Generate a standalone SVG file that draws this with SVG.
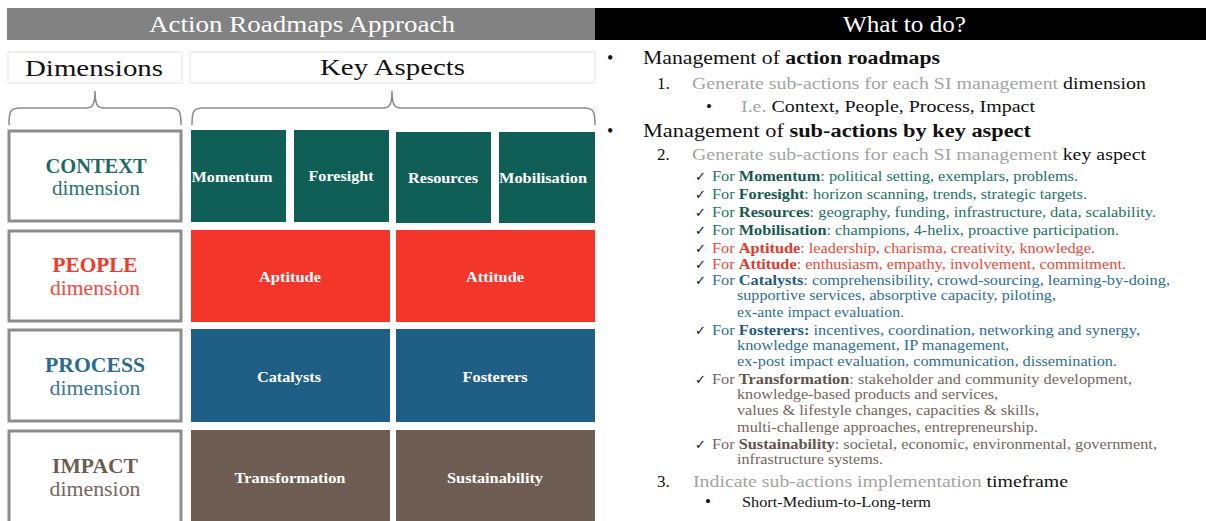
<svg xmlns="http://www.w3.org/2000/svg" width="1206" height="521" viewBox="0 0 1206 521">
<style>
text{font-family:"Liberation Serif","Times New Roman",serif}
.hdr{font-size:24px;fill:#fff}
.lbl{font-size:23px;fill:#111}
.dimbox{fill:#fff;stroke:#8c8c8c;stroke-width:3}
.lblbox{fill:#fff;stroke:#e2e2e2;stroke-width:1}
.dt{font-size:20px;font-weight:bold;text-anchor:middle}
.ds{font-size:20px;text-anchor:middle}
.asp{font-size:14.5px;font-weight:bold;fill:#fff;text-anchor:middle}
.ctx{fill:#0f5f56}.ppl{fill:#f4352a}.prc{fill:#1f5e85}.imp{fill:#6e5d52}
.brace{fill:none;stroke:#8c8c8c;stroke-width:1.6}
.l1{font-size:18px;fill:#111}
.l2{font-size:17px;fill:#111}
.g{fill:#a3a3a3}
.b{font-weight:bold}
.ck{font-family:"DejaVu Sans",sans-serif;font-size:13px;font-weight:bold;fill:#111}
.li{font-size:14px}
.tc{fill:#237166}.tcb{fill:#175a50}
.rc{fill:#ec4638}.rcb{fill:#e1392c}
.bc{fill:#2f6d93}.bcb{fill:#225c80}
.nc{fill:#75645a}.ncb{fill:#62524a}
</style>

<g id="header-left">
<rect x="7" y="8" width="588" height="32" fill="#828282"/>
<text class="hdr" x="149" y="32" textLength="306" lengthAdjust="spacingAndGlyphs">Action Roadmaps Approach</text>
</g>
<g id="header-right">
<rect x="595" y="8" width="611" height="32" fill="#000"/>
<text class="hdr" x="843" y="32" textLength="123" lengthAdjust="spacingAndGlyphs">What to do?</text>
</g>

<g id="label-dimensions">
<rect class="lblbox" x="8" y="52" width="174" height="31"/>
<text class="lbl" x="25" y="76" textLength="138" lengthAdjust="spacingAndGlyphs">Dimensions</text>
</g>
<g id="label-key-aspects">
<rect class="lblbox" x="190" y="52" width="405" height="31"/>
<text class="lbl" x="320" y="75" textLength="145" lengthAdjust="spacingAndGlyphs">Key Aspects</text>
</g>

<g id="connectors">
<path class="brace" d="M9,125 C9,112 10,108 20,108 L86,108 C93,108 95,104 95,91 C95,104 97,108 104,108 L170,108 C180,108 181,112 181,125"/>
<path class="brace" d="M192,125 C192,112 193,108 203,108 L383,108 C390,108 392,104 392,91 C392,104 394,108 401,108 L584,108 C594,108 595,112 595,125"/>
</g>

<g id="dim-context">
<rect class="dimbox" x="9" y="131" width="172" height="90"/>
<text class="dt" x="96" y="173" fill="#1b6b5f" textLength="101" lengthAdjust="spacingAndGlyphs">CONTEXT</text>
<text class="ds" x="96" y="195" fill="#2a7569" textLength="88" lengthAdjust="spacingAndGlyphs">dimension</text>
</g>
<g id="dim-people">
<rect class="dimbox" x="9" y="231" width="172" height="90"/>
<text class="dt" x="95" y="272" fill="#f0382b" textLength="85" lengthAdjust="spacingAndGlyphs">PEOPLE</text>
<text class="ds" x="95" y="295" fill="#ef4a3c" textLength="90" lengthAdjust="spacingAndGlyphs">dimension</text>
</g>
<g id="dim-process">
<rect class="dimbox" x="9" y="330" width="172" height="91"/>
<text class="dt" x="95" y="372" fill="#2a6a8c" textLength="100" lengthAdjust="spacingAndGlyphs">PROCESS</text>
<text class="ds" x="95" y="395" fill="#3a7596" textLength="91" lengthAdjust="spacingAndGlyphs">dimension</text>
</g>
<g id="dim-impact">
<rect class="dimbox" x="9" y="431" width="172" height="95"/>
<text class="dt" x="95" y="473" fill="#6d5c52" textLength="86" lengthAdjust="spacingAndGlyphs">IMPACT</text>
<text class="ds" x="95" y="496" fill="#76665c" textLength="91" lengthAdjust="spacingAndGlyphs">dimension</text>
</g>

<g id="momentum"><rect class="ctx" x="191" y="130" width="95" height="92"/><text class="asp" x="232" y="182" textLength="81" lengthAdjust="spacingAndGlyphs">Momentum</text></g>
<g id="foresight"><rect class="ctx" x="294" y="130" width="95" height="92"/><text class="asp" x="341" y="181" textLength="65" lengthAdjust="spacingAndGlyphs">Foresight</text></g>
<g id="resources"><rect class="ctx" x="396" y="132" width="95" height="91"/><text class="asp" x="443" y="183" textLength="70" lengthAdjust="spacingAndGlyphs">Resources</text></g>
<g id="mobilisation"><rect class="ctx" x="499" y="132" width="96" height="91"/><text class="asp" x="543" y="183" textLength="88" lengthAdjust="spacingAndGlyphs">Mobilisation</text></g>

<g id="aptitude"><rect class="ppl" x="191" y="230" width="199" height="92"/><text class="asp" x="290" y="282" textLength="62" lengthAdjust="spacingAndGlyphs">Aptitude</text></g>
<g id="attitude"><rect class="ppl" x="396" y="230" width="199" height="92"/><text class="asp" x="495" y="282" textLength="58" lengthAdjust="spacingAndGlyphs">Attitude</text></g>

<g id="catalysts"><rect class="prc" x="191" y="329" width="199" height="93"/><text class="asp" x="289" y="382" textLength="64" lengthAdjust="spacingAndGlyphs">Catalysts</text></g>
<g id="fosterers"><rect class="prc" x="396" y="329" width="199" height="93"/><text class="asp" x="495" y="382" textLength="65" lengthAdjust="spacingAndGlyphs">Fosterers</text></g>

<g id="transformation"><rect class="imp" x="191" y="430" width="199" height="95"/><text class="asp" x="290" y="483" textLength="111" lengthAdjust="spacingAndGlyphs">Transformation</text></g>
<g id="sustainability"><rect class="imp" x="396" y="430" width="199" height="95"/><text class="asp" x="495" y="483" textLength="96" lengthAdjust="spacingAndGlyphs">Sustainability</text></g>

<g id="what-to-do">
<text class="l1" x="607" y="64">•</text>
<text class="l1" x="643" y="64" textLength="297" lengthAdjust="spacingAndGlyphs">Management of <tspan class="b">action roadmaps</tspan></text>
<text class="l2" x="657" y="89">1.</text>
<text class="l2" x="692" y="89" textLength="454" lengthAdjust="spacingAndGlyphs"><tspan class="g">Generate sub-actions for each SI management</tspan> dimension</text>
<text class="l2" x="706" y="112">•</text>
<text class="l2" x="741" y="112" textLength="294" lengthAdjust="spacingAndGlyphs"><tspan class="g">I.e.</tspan> Context, People, Process, Impact</text>
<text class="l1" x="607" y="137">•</text>
<text class="l1" x="643" y="137" textLength="388" lengthAdjust="spacingAndGlyphs">Management of <tspan class="b">sub-actions by key aspect</tspan></text>
<text class="l2" x="657" y="160">2.</text>
<text class="l2" x="692" y="160" textLength="454" lengthAdjust="spacingAndGlyphs"><tspan class="g">Generate sub-actions for each SI management</tspan> key aspect</text>

<text class="ck" x="695" y="181">✓</text>
<text class="li tc" x="712" y="181" textLength="366" lengthAdjust="spacingAndGlyphs">For <tspan class="b tcb">Momentum</tspan>: political setting, exemplars, problems.</text>
<text class="ck" x="695" y="199">✓</text>
<text class="li tc" x="712" y="199" textLength="375" lengthAdjust="spacingAndGlyphs">For <tspan class="b tcb">Foresight</tspan>: horizon scanning, trends, strategic targets.</text>
<text class="ck" x="695" y="217">✓</text>
<text class="li tc" x="712" y="217" textLength="444" lengthAdjust="spacingAndGlyphs">For <tspan class="b tcb">Resources</tspan>: geography, funding, infrastructure, data, scalability.</text>
<text class="ck" x="695" y="235">✓</text>
<text class="li tc" x="712" y="235" textLength="407" lengthAdjust="spacingAndGlyphs">For <tspan class="b tcb">Mobilisation</tspan>: champions, 4-helix, proactive participation.</text>
<text class="ck" x="695" y="253">✓</text>
<text class="li rc" x="712" y="253" textLength="383" lengthAdjust="spacingAndGlyphs">For <tspan class="b rcb">Aptitude</tspan>: leadership, charisma, creativity, knowledge.</text>
<text class="ck" x="695" y="269">✓</text>
<text class="li rc" x="712" y="269" textLength="414" lengthAdjust="spacingAndGlyphs">For <tspan class="b rcb">Attitude</tspan>: enthusiasm, empathy, involvement, commitment.</text>
<text class="ck" x="695" y="285">✓</text>
<text class="li bc" x="712" y="285" textLength="458" lengthAdjust="spacingAndGlyphs">For <tspan class="b bcb">Catalysts</tspan>: comprehensibility, crowd-sourcing, learning-by-doing,</text>
<text class="li bc" x="737" y="300" textLength="319" lengthAdjust="spacingAndGlyphs">supportive services, absorptive capacity, piloting,</text>
<text class="li bc" x="737" y="317" textLength="167" lengthAdjust="spacingAndGlyphs">ex-ante impact evaluation.</text>
<text class="ck" x="695" y="335">✓</text>
<text class="li bc" x="712" y="335" textLength="428" lengthAdjust="spacingAndGlyphs">For <tspan class="b bcb">Fosterers:</tspan> incentives, coordination, networking and synergy,</text>
<text class="li bc" x="737" y="350" textLength="272" lengthAdjust="spacingAndGlyphs">knowledge management, IP management,</text>
<text class="li bc" x="737" y="366" textLength="380" lengthAdjust="spacingAndGlyphs">ex-post impact evaluation, communication, dissemination.</text>
<text class="ck" x="695" y="384">✓</text>
<text class="li nc" x="712" y="384" textLength="420" lengthAdjust="spacingAndGlyphs">For <tspan class="b ncb">Transformation</tspan>: stakeholder and community development,</text>
<text class="li nc" x="737" y="399" textLength="261" lengthAdjust="spacingAndGlyphs">knowledge-based products and services,</text>
<text class="li nc" x="737" y="415" textLength="302" lengthAdjust="spacingAndGlyphs">values &amp; lifestyle changes, capacities &amp; skills,</text>
<text class="li nc" x="737" y="432" textLength="301" lengthAdjust="spacingAndGlyphs">multi-challenge approaches, entrepreneurship.</text>
<text class="ck" x="695" y="449">✓</text>
<text class="li nc" x="712" y="449" textLength="445" lengthAdjust="spacingAndGlyphs">For <tspan class="b ncb">Sustainability</tspan>: societal, economic, environmental, government,</text>
<text class="li nc" x="737" y="464" textLength="146" lengthAdjust="spacingAndGlyphs">infrastructure systems.</text>

<text class="l2" x="657" y="487">3.</text>
<text class="l2" x="693" y="487" textLength="375" lengthAdjust="spacingAndGlyphs"><tspan class="g">Indicate sub-actions implementation</tspan> timeframe</text>
<text class="l2" x="705" y="507" font-size="13">•</text>
<text x="742" y="507" font-size="14" fill="#111" textLength="189" lengthAdjust="spacingAndGlyphs">Short-Medium-to-Long-term</text>
</g>
</svg>
